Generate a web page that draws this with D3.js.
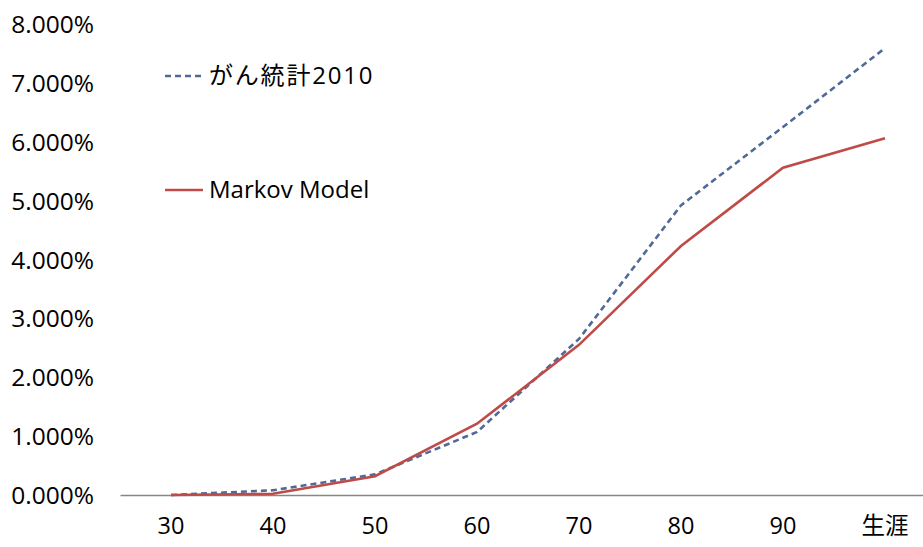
<html>
<head>
<meta charset="utf-8">
<script src="https://d3js.org/d3.v7.min.js"></script>
<style>
  body { margin: 0; background: #fff; }
  text { font-family: "Open Sans", "Noto Sans CJK JP", sans-serif; fill: #000; }
</style>
</head>
<body>
<div id="chart"></div>
<script>
// categories (age) and cumulative incidence (%)
const ages = ["30", "40", "50", "60", "70", "80", "90", "生涯"];
const ganStats = [0.0, 0.08, 0.35, 1.07, 2.65, 4.92, 6.25, 7.59];
const markov = [0.0, 0.02, 0.32, 1.21, 2.55, 4.23, 5.56, 6.06];
const yTicks = [0, 1, 2, 3, 4, 5, 6, 7, 8];

const W = 923, H = 547;
const svg = d3.select("#chart").append("svg")
  .attr("width", W).attr("height", H);

// plot area (band extends slightly past the right edge, like the original crop)
const x = d3.scaleBand().domain(ages).range([120, 936]);
const y = d3.scaleLinear().domain([0, 8]).range([495, 24]);

// y axis labels only
svg.append("g")
  .attr("transform", "translate(94,0)")
  .call(d3.axisLeft(y).tickValues(yTicks).tickSize(0).tickPadding(0)
    .tickFormat(d => d.toFixed(3) + "%"))
  .call(g => g.select(".domain").remove())
  .selectAll("text")
    .style("font-size", "24.5px")
    .attr("dy", "0.35em");

// x axis
svg.append("g")
  .attr("transform", "translate(0,495)")
  .call(d3.axisBottom(x).tickSize(0).tickPadding(22))
  .call(g => g.select(".domain").attr("stroke", "#868686").attr("stroke-width", 1.3))
  .selectAll("text")
    .style("font-size", "23.5px");

const line = d3.line()
  .x((d, i) => x(ages[i]) + x.bandwidth() / 2)
  .y(d => y(d));

svg.append("path")
  .datum(ganStats)
  .attr("fill", "none")
  .attr("stroke", "#4f6a97")
  .attr("stroke-width", 2.6)
  .attr("stroke-dasharray", "6,4")
  .attr("d", line);

svg.append("path")
  .datum(markov)
  .attr("fill", "none")
  .attr("stroke", "#be4b48")
  .attr("stroke-width", 2.6)
  .attr("d", line);

// legend
const legend = [
  {name: "がん統計2010", color: "#4f6a97", dash: "6,4", y: 76, ls: "1.8px"},
  {name: "Markov Model", color: "#be4b48", dash: null, y: 190, ls: "0px"}
];
legend.forEach(l => {
  svg.append("line")
    .attr("x1", 165).attr("x2", 203)
    .attr("y1", l.y).attr("y2", l.y)
    .attr("stroke", l.color).attr("stroke-width", 2.6)
    .attr("stroke-dasharray", l.dash);
  svg.append("text")
    .attr("x", 209).attr("y", l.y)
    .attr("dy", "0.35em")
    .style("font-size", "24px")
    .style("letter-spacing", l.ls)
    .text(l.name);
});
</script>
</body>
</html>
